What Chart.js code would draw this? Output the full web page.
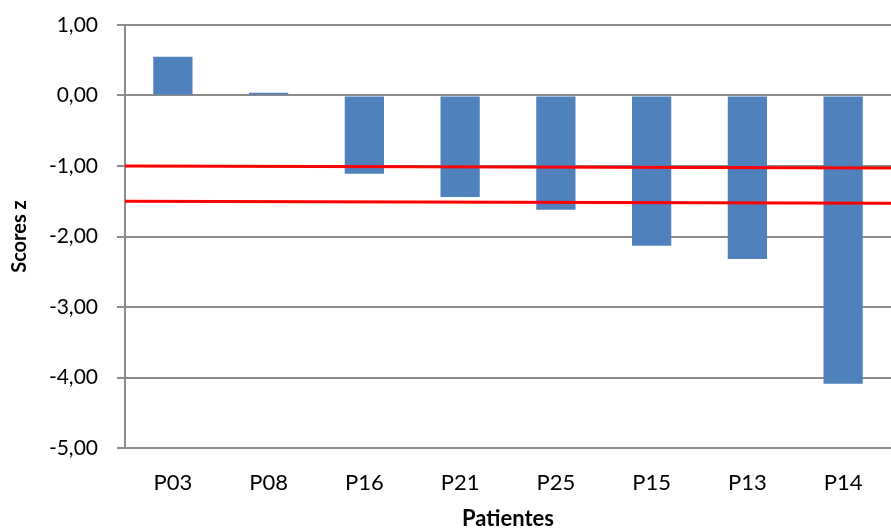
<!DOCTYPE html>
<html>
<head>
<meta charset="utf-8">
<script src="https://cdn.jsdelivr.net/npm/chart.js@4/dist/chart.umd.min.js"></script>
<style>
  html, body { margin: 0; padding: 0; background: #ffffff; }
  #wrap { width: 891px; height: 532px; }
</style>
</head>
<body>
<div id="wrap"><canvas id="c" width="891" height="532"></canvas></div>
<script>
const categories = ['P03', 'P08', 'P16', 'P21', 'P25', 'P15', 'P13', 'P14'];
const zScores = [0.55, 0.04, -1.11, -1.44, -1.62, -2.13, -2.32, -4.09];
const yTickValues = [1, 0, -1, -2, -3, -4, -5];
// cutoff lines: [value at left edge, value at right edge]
const cutoffA = [-1.00, -1.03];
const cutoffB = [-1.50, -1.53];
const xTitle = 'Patientes';
const yTitle = 'Scores z';

const fontFam = 'Lato, "Open Sans", sans-serif';

new Chart(document.getElementById('c'), {
  type: 'bar',
  data: {
    labels: categories,
    datasets: [
      {
        type: 'line',
        xAxisID: 'x2',
        data: [{ x: 0, y: cutoffA[0] }, { x: 1, y: cutoffA[1] }],
        borderColor: '#ff0000',
        borderWidth: 3,
        pointRadius: 0,
        fill: false,
        order: 0
      },
      {
        type: 'line',
        xAxisID: 'x2',
        data: [{ x: 0, y: cutoffB[0] }, { x: 1, y: cutoffB[1] }],
        borderColor: '#ff0000',
        borderWidth: 3,
        pointRadius: 0,
        fill: false,
        order: 0
      },
      {
        type: 'bar',
        xAxisID: 'x',
        data: zScores,
        backgroundColor: '#4f81bd',
        borderWidth: 0,
        grouped: false,
        categoryPercentage: 1,
        barPercentage: 0.41,
        order: 1
      }
    ]
  },
  options: {
    responsive: false,
    animation: false,
    devicePixelRatio: 1,
    layout: { padding: { left: 0, right: 0, top: 25, bottom: 0 } },
    plugins: { legend: { display: false }, tooltip: { enabled: false } },
    scales: {
      x: {
        type: 'category',
        position: 'bottom',
        offset: true,
        grid: { display: false, drawTicks: false },
        border: { display: false },
        ticks: { color: '#000000', font: { family: fontFam, size: 22 }, padding: 22, maxRotation: 0 },
        title: { display: true, text: xTitle, color: '#000000', font: { family: fontFam, size: 22, weight: 'bold' }, padding: { top: 4, bottom: 0 } },
        afterFit: (s) => { s.height = 84; s.paddingLeft = 0; s.paddingRight = 0; }
      },
      x2: {
        type: 'linear',
        position: 'bottom',
        display: false,
        offset: false,
        grid: { offset: false },
        min: 0,
        max: 1
      },
      y: {
        type: 'linear',
        min: -5,
        max: 1,
        afterBuildTicks: (s) => { s.ticks = yTickValues.map(v => ({ value: v })); },
        grid: { color: '#8c8c8c', lineWidth: 2, tickLength: 8, drawTicks: true },
        border: { display: true, color: '#8c8c8c', width: 2 },
        ticks: {
          color: '#000000',
          font: { family: fontFam, size: 21 },
          padding: 19,
          callback: (v) => Number(v).toFixed(2).replace('.', ',')
        },
        title: { display: true, text: yTitle, color: '#000000', font: { family: fontFam, size: 20, weight: 'bold' }, padding: { top: 8, bottom: 0 } },
        afterFit: (s) => { s.width = 125; s.paddingTop = 0; s.paddingBottom = 0; }
      }
    }
  }
});
</script>
</body>
</html>
